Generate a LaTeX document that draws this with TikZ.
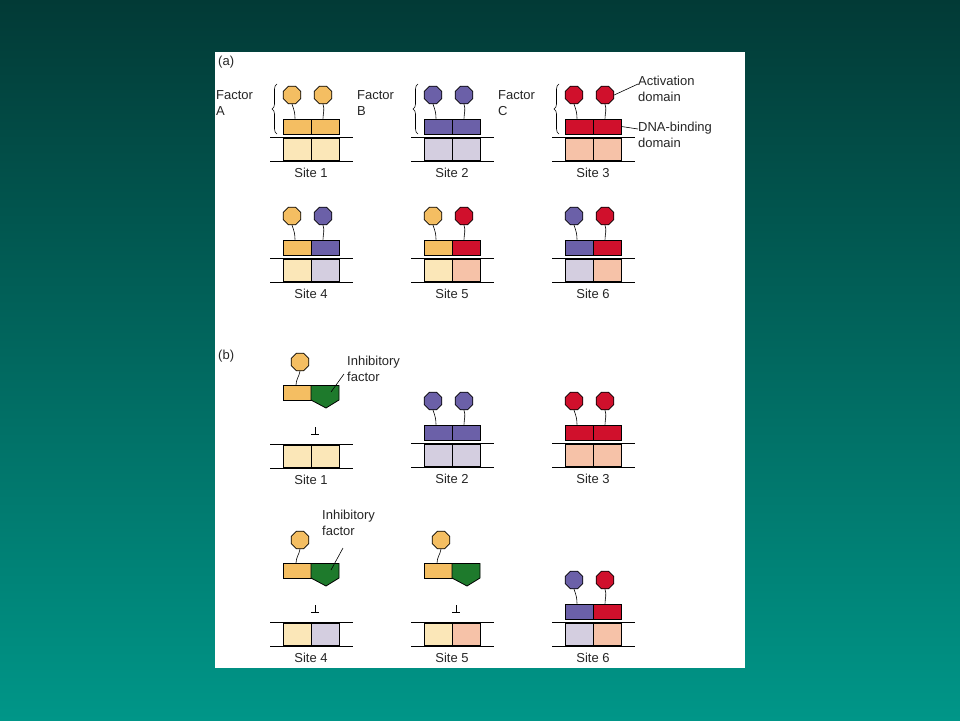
\documentclass[tikz,border=0pt]{standalone}
\usepackage{fontspec}
\setmainfont{Liberation Sans}
\usetikzlibrary{shapes.geometric,decorations.pathreplacing}
\definecolor{orA}{HTML}{F4BE62}
\definecolor{puB}{HTML}{6B60A8}
\definecolor{reC}{HTML}{D0102C}
\definecolor{grI}{HTML}{1E7A2C}
\definecolor{siteA}{HTML}{FBE7B8}
\definecolor{siteB}{HTML}{D4CEE0}
\definecolor{siteC}{HTML}{F6C2A8}
\tikzset{
actd/.style={regular polygon, regular polygon sides=8, draw=black, thick, inner sep=0pt, minimum size=19pt},
dbd/.style={rectangle, draw=black, thick, inner sep=0pt, minimum width=28pt, minimum height=15pt},
sitebox/.style={draw=black, thick},
dnaline/.style={draw=black, thick},
stem/.style={draw=black, semithick},
txt/.style={inner sep=0pt, font=\fontsize{13}{16}\selectfont, align=left, text=black!85},
sitelab/.style={inner sep=0pt, font=\fontsize{13}{16}\selectfont, text=black!85},
}
% DNA site: name, centre x, top line y, left colour, right colour, label
\newcommand{\dnasite}[6]{%
  \draw[dnaline] (#2-41,#3) -- (#2+42,#3) (#2-41,#3+24) -- (#2+42,#3+24);
  \filldraw[sitebox,fill=#4] (#2-28,#3+1) rectangle (#2,#3+23);
  \filldraw[sitebox,fill=#5] (#2,#3+1) rectangle (#2+28,#3+23);
  \node[sitelab] (#1lab) at (#2,#3+36) {#6};}
% bound activator pair: name, centre x, top line y, left colour, right colour
\newcommand{\boundpair}[5]{%
  \node[dbd,fill=#4] (#1l) at (#2-14,#3-10.5) {};
  \node[dbd,fill=#5] (#1r) at (#2+14,#3-10.5) {};
  \node[actd,fill=#4] (#1la) at (#2-19,#3-42) {};
  \node[actd,fill=#5] (#1ra) at (#2+12,#3-42) {};
  \draw[stem] (#1la.south) to[out=-70,in=90] ([xshift=-2pt]#1l.north);
  \draw[stem] (#1ra.south) to[out=-70,in=90] ([xshift=-2pt]#1r.north);}
% activator held off by inhibitory factor: name, centre x, top line y
\newcommand{\blockedpair}[3]{%
  \node[dbd,fill=orA] (#1l) at (#2-14,#3-51) {};
  \filldraw[thick,fill=grI] (#2,#3-58.5) -- (#2+28,#3-58.5) -- (#2+28,#3-44) -- (#2+15,#3-36) -- (#2,#3-44) -- cycle;
  \node[actd,fill=orA] (#1a) at (#2-11,#3-82) {};
  \draw[stem] (#1a.south) to[out=-100,in=90] ([xshift=-1pt]#1l.north);
  \coordinate (#1g) at (#2+20,#3-52);
  \draw[semithick] (#2+4,#3-17) -- (#2+4,#3-10) (#2,#3-10) -- (#2+8,#3-10);}
\begin{document}
\begin{tikzpicture}[x=1pt,y=-1pt]
\useasboundingbox (0,0) rectangle (960,720);
\shade[top color=black!100!teal!100, bottom color=teal, shading=axis] (0,0) rectangle (960,720);
\shade[top color={rgb,255:red,2;green,58;blue,54}, bottom color={rgb,255:red,0;green,150;blue,136}] (0,0) rectangle (960,720);
\fill[white] (215,52) rectangle (745,668);

\node[txt,anchor=north west] (pa) at (218,56) {(a)};
\node[txt,anchor=north west] (pb) at (218,350) {(b)};

% (a) top row
\dnasite{s1}{311}{137}{siteA}{siteA}{Site 1}
\boundpair{f1}{311}{137}{orA}{orA}
\dnasite{s2}{452}{137}{siteB}{siteB}{Site 2}
\boundpair{f2}{452}{137}{puB}{puB}
\dnasite{s3}{593}{137}{siteC}{siteC}{Site 3}
\boundpair{f3}{593}{137}{reC}{reC}
\foreach \cx/\fl in {311/A,452/B,593/C}{
  \draw[semithick,decorate,decoration={brace,amplitude=5pt}] (\cx-34,134) -- (\cx-34,84);
  \node[txt,anchor=north west] at (\cx-95,90) {Factor\\\fl};
}
\node[txt,anchor=north west] (actlab) at (638,76) {Activation\\domain};
\draw[semithick] (f3ra.east) -- (actlab.west |- 0,84);
\node[txt,anchor=north west] (dnalab) at (638,122) {DNA-binding\\domain};
\draw[semithick] (f3r.east) -- (dnalab.west |- 0,129);

% (a) bottom row
\dnasite{s4}{311}{258}{siteA}{siteB}{Site 4}
\boundpair{f4}{311}{258}{orA}{puB}
\dnasite{s5}{452}{258}{siteA}{siteC}{Site 5}
\boundpair{f5}{452}{258}{orA}{reC}
\dnasite{s6}{593}{258}{siteB}{siteC}{Site 6}
\boundpair{f6}{593}{258}{puB}{reC}

% (b) top row
\dnasite{t1}{311}{444}{siteA}{siteA}{Site 1}
\blockedpair{g1}{311}{444}
\node[txt,anchor=north west] (inh1) at (347,356) {Inhibitory\\factor};
\draw[semithick] (344,374) -- (g1g);
\dnasite{t2}{452}{443}{siteB}{siteB}{Site 2}
\boundpair{h2}{452}{443}{puB}{puB}
\dnasite{t3}{593}{443}{siteC}{siteC}{Site 3}
\boundpair{h3}{593}{443}{reC}{reC}

% (b) bottom row
\dnasite{t4}{311}{622}{siteA}{siteB}{Site 4}
\blockedpair{g4}{311}{622}
\node[txt,anchor=north west] (inh4) at (322,510) {Inhibitory\\factor};
\draw[semithick] (343,548) -- (g4g);
\dnasite{t5}{452}{622}{siteA}{siteC}{Site 5}
\blockedpair{g5}{452}{622}
\dnasite{t6}{593}{622}{siteB}{siteC}{Site 6}
\boundpair{h6}{593}{622}{puB}{reC}
\end{tikzpicture}
\end{document}
